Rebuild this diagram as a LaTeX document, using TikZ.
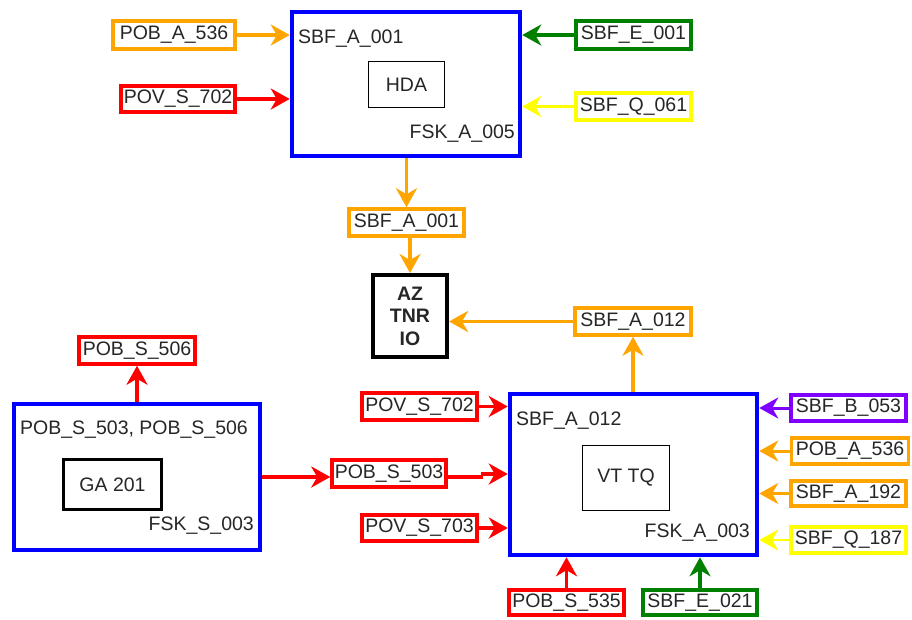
\documentclass[tikz,border=0pt]{standalone}
\usepackage{fontspec}
\setmainfont{Liberation Sans}
\usetikzlibrary{arrows.meta}
\definecolor{cor}{RGB}{255,165,0}
\definecolor{cred}{RGB}{255,0,0}
\definecolor{cgr}{RGB}{0,128,0}
\definecolor{cye}{RGB}{255,255,0}
\definecolor{cpu}{RGB}{128,0,255}
\definecolor{cbl}{RGB}{0,0,255}
\begin{document}
\begin{tikzpicture}[x=1pt,y=-1pt,
  every node/.style={font=\fontsize{19.5}{22.5}\selectfont, inner sep=0pt, text=black!85},
  lbl/.style={draw=#1, line width=3.5pt, rectangle},
  big/.style={draw=cbl, line width=4.5pt, rectangle},
  inner/.style={draw=black, line width=1.2pt, rectangle},
  arr/.style={draw=#1, line width=3.5pt, -{Stealth[length=19pt,width=21pt,inset=6pt]}},
  plain/.style={draw=#1, line width=3.5pt}]
\useasboundingbox[fill=white] (0,0) rectangle (912,619);

% top section
\node[big, minimum width=228pt, minimum height=144pt] (topbox) at (406,84) {};
\node[anchor=west] (t1) at (298,39) {SBF\_A\_001};
\node[anchor=east] (t2) at (515,134) {FSK\_A\_005};
\node[inner, minimum width=76pt, minimum height=46pt] (hda) at (406.5,84.5) {HDA};

\node[lbl=cor, minimum width=122pt, minimum height=28pt] (pobA536a) at (174,35) {POB\_A\_536};
\node[lbl=cred, minimum width=114pt, minimum height=26pt] (povS702a) at (178,99) {POV\_S\_702};
\node[lbl=cgr, minimum width=115pt, minimum height=28pt] (sbfE001) at (633.5,35) {SBF\_E\_001};
\node[lbl=cye, minimum width=115pt, minimum height=27pt] (sbfQ061) at (633.5,106.5) {SBF\_Q\_061};

\draw[arr=cor] (pobA536a.east) -- (topbox.west |- pobA536a.east);
\draw[arr=cred] (povS702a.east) -- (topbox.west |- povS702a.east);
\draw[arr=cgr] (sbfE001.west) -- (topbox.east |- sbfE001.west);
\draw[arr=cye, line width=2.5pt] (sbfQ061.west) -- (topbox.east |- sbfQ061.west);

\node[lbl=cor, minimum width=115pt, minimum height=27pt] (sbfA001) at (406.5,222.5) {SBF\_A\_001};
\node[draw=black, line width=4pt, minimum width=74pt, minimum height=82pt, align=center, font=\fontsize{19.5}{22.5}\selectfont\bfseries] (az) at (410,316) {AZ\\TNR\\IO};
\draw[arr=cor] (topbox.south -| sbfA001.north) -- (sbfA001.north);
\draw[arr=cor] (sbfA001.south -| az.north) -- (az.north);

\node[lbl=cor, minimum width=116pt, minimum height=27pt] (sbfA012) at (633,321.5) {SBF\_A\_012};
\draw[arr=cor] (sbfA012.west) -- (az.east |- sbfA012.west);

% left section
\node[big, minimum width=246pt, minimum height=146pt] (leftbox) at (137,477) {};
\node[anchor=west] (l1) at (20,430) {POB\_S\_503, POB\_S\_506};
\node[anchor=east] (l2) at (254,526) {FSK\_S\_003};
\node[draw=black, line width=3pt, minimum width=98pt, minimum height=50pt] (ga) at (112.5,484.5) {GA 201};

\node[lbl=cred, minimum width=116pt, minimum height=27pt] (pobS506) at (137,350.5) {POB\_S\_506};
\draw[arr=cred] (leftbox.north -| pobS506.south) -- (pobS506.south);

% right box
\node[big, minimum width=247pt, minimum height=161pt] (vtbox) at (633.5,474.5) {};
\node[anchor=west] (v1) at (516,421) {SBF\_A\_012};
\node[anchor=east] (v2) at (750,533) {FSK\_A\_003};
\node[inner, minimum width=87pt, minimum height=65pt] (vt) at (626,478) {VT TQ};
\draw[arr=cor] (vtbox.north -| sbfA012.south) -- (sbfA012.south);

\node[lbl=cred, minimum width=114pt, minimum height=27pt] (pobS503) at (389,473.5) {POB\_S\_503};
\node[lbl=cred, minimum width=115pt, minimum height=27pt] (povS702b) at (419.5,406.5) {POV\_S\_702};
\node[lbl=cred, minimum width=115pt, minimum height=26pt] (povS703) at (419.5,528) {POV\_S\_703};

\draw[arr=cred] (leftbox.east) -- (pobS503.west |- leftbox.east);
\coordinate (j1) at (483,477);
\coordinate (j2) at (481,474);
\draw[plain=cred] (pobS503.east |- j1) -- (j1);
\draw[arr=cred] (j2) -- (vtbox.west |- j2);
\draw[arr=cred] (povS702b.east) -- (vtbox.west |- povS702b.east);
\draw[arr=cred] (povS703.east) -- (vtbox.west |- povS703.east);

\node[lbl=cpu, minimum width=115pt, minimum height=26pt] (sbfB053) at (848.5,408) {SBF\_B\_053};
\node[lbl=cor, minimum width=117pt, minimum height=26pt] (pobA536b) at (850,451) {POB\_A\_536};
\node[lbl=cor, minimum width=115pt, minimum height=25pt] (sbfA192) at (848.5,493.5) {SBF\_A\_192};
\node[lbl=cye, minimum width=115pt, minimum height=26pt] (sbfQ187) at (848.5,540) {SBF\_Q\_187};

\draw[arr=cpu, line width=3pt] (sbfB053.west) -- (vtbox.east |- sbfB053.west);
\draw[arr=cor, line width=3pt] (pobA536b.west) -- (vtbox.east |- pobA536b.west);
\draw[arr=cor, line width=3pt] (sbfA192.west) -- (vtbox.east |- sbfA192.west);
\draw[arr=cye, line width=2.5pt] (sbfQ187.west) -- (vtbox.east |- sbfQ187.west);

\node[lbl=cred, minimum width=115pt, minimum height=25pt] (pobS535) at (566.5,602.5) {POB\_S\_535};
\node[lbl=cgr, minimum width=114pt, minimum height=25pt] (sbfE021) at (700,602.5) {SBF\_E\_021};
\draw[arr=cred] (pobS535.north) -- (vtbox.south -| pobS535.north);
\draw[arr=cgr] (sbfE021.north) -- (vtbox.south -| sbfE021.north);
\end{tikzpicture}
\end{document}
